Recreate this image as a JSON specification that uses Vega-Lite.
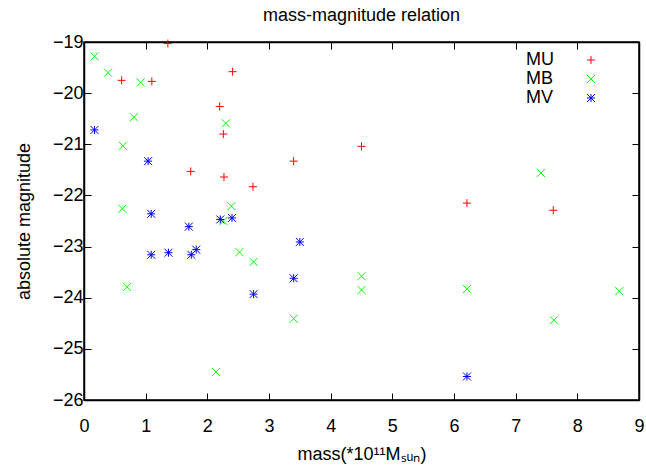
{
  "$schema": "https://vega.github.io/schema/vega-lite/v6.json",
  "width": 555,
  "height": 358,
  "autosize": {"type": "none"},
  "padding": {"left": 84, "top": 42, "right": 7, "bottom": 66},
  "background": "white",
  "title": {"text": "mass-magnitude relation", "font": "Liberation Sans", "fontSize": 18, "fontWeight": "normal", "color": "black", "offset": 8},
  "config": {
    "view": {"stroke": "black", "strokeWidth": 1.5},
    "axis": {"grid": false, "domainColor": "black", "tickColor": "black", "labelFont": "Liberation Sans", "labelFontSize": 18, "labelColor": "black", "titleFont": "Liberation Sans", "titleFontSize": 18, "titleFontWeight": "normal", "titleColor": "black", "tickSize": -7, "tickWidth": 1, "domainWidth": 1.5}
  },
  "data": {"values": [
    {"mass": 1.36, "mag": -19.03, "band": "MU"},
    {"mass": 0.61, "mag": -19.75, "band": "MU"},
    {"mass": 1.10, "mag": -19.77, "band": "MU"},
    {"mass": 2.41, "mag": -19.58, "band": "MU"},
    {"mass": 2.20, "mag": -20.26, "band": "MU"},
    {"mass": 2.26, "mag": -20.80, "band": "MU"},
    {"mass": 1.73, "mag": -21.53, "band": "MU"},
    {"mass": 2.27, "mag": -21.64, "band": "MU"},
    {"mass": 2.74, "mag": -21.83, "band": "MU"},
    {"mass": 4.50, "mag": -21.04, "band": "MU"},
    {"mass": 3.40, "mag": -21.33, "band": "MU"},
    {"mass": 6.21, "mag": -22.15, "band": "MU"},
    {"mass": 7.61, "mag": -22.29, "band": "MU"},
    {"mass": 0.17, "mag": -19.28, "band": "MB"},
    {"mass": 0.39, "mag": -19.60, "band": "MB"},
    {"mass": 0.92, "mag": -19.79, "band": "MB"},
    {"mass": 0.81, "mag": -20.47, "band": "MB"},
    {"mass": 2.30, "mag": -20.59, "band": "MB"},
    {"mass": 0.63, "mag": -21.03, "band": "MB"},
    {"mass": 2.39, "mag": -22.21, "band": "MB"},
    {"mass": 0.62, "mag": -22.26, "band": "MB"},
    {"mass": 2.26, "mag": -22.50, "band": "MB"},
    {"mass": 2.52, "mag": -23.11, "band": "MB"},
    {"mass": 2.75, "mag": -23.30, "band": "MB"},
    {"mass": 0.70, "mag": -23.79, "band": "MB"},
    {"mass": 2.14, "mag": -25.45, "band": "MB"},
    {"mass": 4.50, "mag": -23.58, "band": "MB"},
    {"mass": 4.50, "mag": -23.85, "band": "MB"},
    {"mass": 3.40, "mag": -24.41, "band": "MB"},
    {"mass": 6.21, "mag": -23.83, "band": "MB"},
    {"mass": 8.68, "mag": -23.87, "band": "MB"},
    {"mass": 7.62, "mag": -24.44, "band": "MB"},
    {"mass": 7.41, "mag": -21.56, "band": "MB"},
    {"mass": 0.17, "mag": -20.72, "band": "MV"},
    {"mass": 1.04, "mag": -21.33, "band": "MV"},
    {"mass": 1.09, "mag": -22.36, "band": "MV"},
    {"mass": 1.70, "mag": -22.61, "band": "MV"},
    {"mass": 2.21, "mag": -22.47, "band": "MV"},
    {"mass": 2.40, "mag": -22.44, "band": "MV"},
    {"mass": 1.09, "mag": -23.16, "band": "MV"},
    {"mass": 1.37, "mag": -23.12, "band": "MV"},
    {"mass": 1.74, "mag": -23.16, "band": "MV"},
    {"mass": 1.82, "mag": -23.06, "band": "MV"},
    {"mass": 2.75, "mag": -23.93, "band": "MV"},
    {"mass": 3.50, "mag": -22.91, "band": "MV"},
    {"mass": 3.40, "mag": -23.62, "band": "MV"},
    {"mass": 6.21, "mag": -25.54, "band": "MV"}
  ]},
  "layer": [
    {
      "mark": {"type": "point", "filled": false, "strokeWidth": 1, "size": 64, "opacity": 1},
      "encoding": {
        "x": {"field": "mass", "type": "quantitative", "scale": {"domain": [0, 9], "nice": false, "zero": false}, "axis": {"orient": "bottom", "values": [0,1,2,3,4,5,6,7,8,9], "labelPadding": 24, "title": "mass(*10¹¹Mₛᵤₙ)", "titlePadding": 10, "labelFlush": false}},
        "y": {"field": "mag", "type": "quantitative", "scale": {"domain": [-26, -19], "nice": false, "zero": false}, "axis": {"orient": "left", "values": [-26,-25,-24,-23,-22,-21,-20,-19], "labelPadding": 8, "title": "absolute magnitude", "titlePadding": 19}},
        "color": {"field": "band", "type": "nominal", "scale": {"domain": ["MU", "MB", "MV"], "range": ["#ff0000", "#00ff00", "#0000ff"]}, "legend": {"title": null, "orient": "none", "legendX": 498, "legendY": 9, "labelFont": "Liberation Sans", "labelFontSize": 18, "labelColor": "black", "rowPadding": 1, "symbolSize": 64, "symbolStrokeWidth": 1, "labelOffset": -74, "labelAlign": "left"}},
        "shape": {"field": "band", "type": "nominal", "scale": {"domain": ["MU", "MB", "MV"], "range": ["M-1,0H1M0,-1V1", "M-1,-1L1,1M-1,1L1,-1", "M-1,0H1M0,-1V1M-1,-1L1,1M-1,1L1,-1"]}}
      }
    },
    {
      "data": {"values": [{"mass": 0, "mag": -26}, {"mass": 9, "mag": -19}]},
      "mark": {"type": "point", "opacity": 0},
      "encoding": {
        "x": {"field": "mass", "type": "quantitative", "axis": {"orient": "top", "values": [0,1,2,3,4,5,6,7,8,9], "labels": false, "title": null}},
        "y": {"field": "mag", "type": "quantitative", "axis": {"orient": "right", "values": [-26,-25,-24,-23,-22,-21,-20,-19], "labels": false, "title": null}}
      }
    }
  ],
  "resolve": {"axis": {"x": "independent", "y": "independent"}}
}
